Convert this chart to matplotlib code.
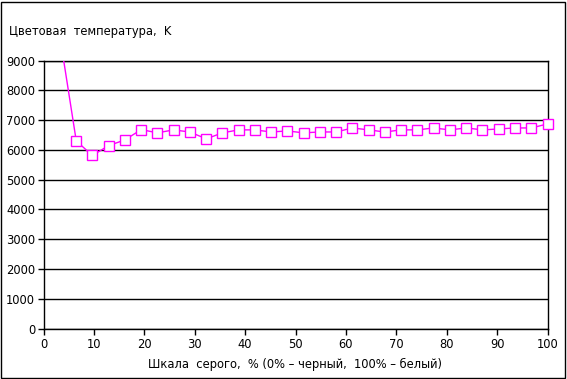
import matplotlib
matplotlib.use("Agg")
import matplotlib.pyplot as plt
from matplotlib.patches import Rectangle

# Data
gray_pct = [3.2, 6.5, 9.7, 12.9, 16.1, 19.4, 22.6, 25.8, 29.0, 32.3, 35.5, 38.7,
            41.9, 45.2, 48.4, 51.6, 54.8, 58.1, 61.3, 64.5, 67.7, 71.0, 74.2,
            77.4, 80.6, 83.9, 87.1, 90.3, 93.5, 96.8, 100.0]
color_temp = [9870, 6300, 5810, 6140, 6330, 6680, 6570, 6670, 6600, 6370, 6570, 6670,
              6670, 6600, 6635, 6570, 6600, 6600, 6735, 6670, 6600, 6670, 6670,
              6735, 6670, 6735, 6670, 6700, 6735, 6735, 6870]
y_ticks = [0, 1000, 2000, 3000, 4000, 5000, 6000, 7000, 8000, 9000]
x_ticks = [0, 10, 20, 30, 40, 50, 60, 70, 80, 90, 100]
title_text = "Цветовая  температура,  K"
xlabel_text = "Шкала  серого,  % (0% – черный,  100% – белый)"

plt.rcParams['font.family'] = ['DejaVu Sans']
W, H = 567, 379
fig = plt.figure(figsize=(W / 100, H / 100), dpi=100)

# outer border
fig.patches.append(Rectangle((1.0 / W, 1.0 / H), (564.5 - 1.0) / W, (377.5 - 1.0) / H,
                             transform=fig.transFigure, fill=False, edgecolor='black',
                             linewidth=1.0))

left, right, top, bottom = 43.5, 547.5, 60.5, 328.5
ax = fig.add_axes([left / W, 1 - bottom / H, (right - left) / W, (bottom - top) / H])

ymax = 9000
ax.plot(gray_pct, color_temp, color='#FF00FF', linewidth=1.0, clip_on=True, zorder=3)
vis = [(x, y) for x, y in zip(gray_pct, color_temp) if y <= ymax]
ax.plot([p[0] for p in vis], [p[1] for p in vis], linestyle='none', marker='s',
        markersize=7, markerfacecolor='white', markeredgecolor='#FF00FF',
        markeredgewidth=1.0, clip_on=False, zorder=4)

ax.set_xlim(0, 100)
ax.set_ylim(0, ymax)
ax.set_xticks(x_ticks)
ax.set_yticks(y_ticks)
ax.set_xticklabels([str(v) for v in x_ticks])
ax.set_yticklabels([str(v) for v in y_ticks])
ax.grid(axis='y', color='black', linewidth=1.0)
ax.set_axisbelow(True)
for s in ax.spines.values():
    s.set_color('black')
    s.set_linewidth(1.0)
ax.tick_params(axis='both', direction='out', length=4, width=1.0, colors='black',
               labelsize=8.3, pad=3)
ax.tick_params(axis='y', pad=2)

ax.set_xlabel(xlabel_text, fontsize=8.3, labelpad=5)
fig.text(9 / W, 1 - 32 / H, title_text, fontsize=8.3, ha='left', va='center')

fig.savefig("out.png", dpi=100)
